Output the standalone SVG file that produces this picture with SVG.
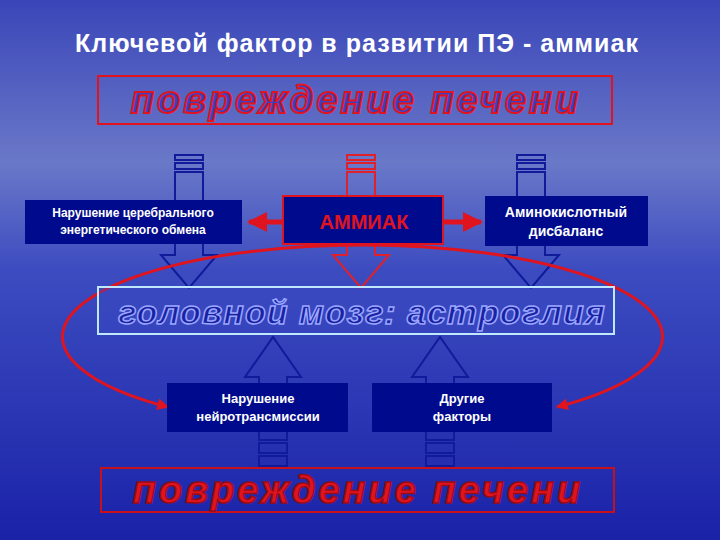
<svg xmlns="http://www.w3.org/2000/svg" width="720" height="540" viewBox="0 0 720 540">
<style>
.lbl{font-family:"Liberation Sans",Arial,sans-serif;font-weight:bold;fill:#fff;text-anchor:middle}
.big{font-family:"Liberation Sans",Arial,sans-serif;font-weight:900;font-style:italic;text-anchor:middle}
.barr{fill:none;stroke:#101a9a;stroke-width:2}
.rarr{fill:none;stroke:#e0202a;stroke-width:2}
</style>
<defs>
<linearGradient id="bg" x1="0" y1="0" x2="0" y2="1">
<stop offset="0" stop-color="#3a46b8"/><stop offset="0.3" stop-color="#6a78c8"/><stop offset="0.5" stop-color="#3c4cc0"/><stop offset="1" stop-color="#1a22a8"/>
</linearGradient>
<marker id="rh" viewBox="0 0 10 10" refX="9" refY="5" markerWidth="4" markerHeight="4" orient="auto-start-reverse"><path d="M0,0 L10,5 L0,10 z" fill="#e0141e"/></marker>
<g id="downArrow">
<rect x="-14" y="0" width="28" height="5"/><rect x="-14" y="8" width="28" height="6"/>
<path d="M-14,17 H14 V100 H28 L0,133 L-28,100 H-14 Z"/>
</g>
<g id="upArrow">
<path d="M-14,103 H14 V40 H28 L0,0 L-28,40 H-14 Z"/>
<rect x="-14" y="106" width="28" height="10"/><rect x="-14" y="119" width="28" height="10"/>
</g>
</defs>
<rect width="720" height="540" fill="url(#bg)"/>
<text x="357" y="52" class="lbl" font-size="25" letter-spacing="1">Ключевой фактор в развитии ПЭ - аммиак</text>

<g id="arrows">
<use href="#downArrow" x="189" y="155" class="barr"/>
<use href="#downArrow" x="361" y="155" class="rarr"/>
<use href="#downArrow" x="531" y="155" class="barr"/>
<use href="#upArrow" x="273" y="337" class="barr"/>
<use href="#upArrow" x="440" y="337" class="barr"/>
</g>

<g id="top-liver">
<rect x="98" y="76" width="514" height="48" fill="none" stroke="#e0141e" stroke-width="2"/>
<text x="356" y="113" class="big" font-size="38" letter-spacing="3" fill="#3a40c0" stroke="#e0141e" stroke-width="2">повреждение печени</text>
</g>

<g id="connectors">
<path d="M168,407 A300,92 0 1 1 557,407" fill="none" stroke="#e0141e" stroke-width="3" marker-start="url(#rh)" marker-end="url(#rh)"/>
<path d="M283,222 H249" stroke="#e0141e" stroke-width="5" marker-end="url(#rh)"/>
<path d="M443,222 H481" stroke="#e0141e" stroke-width="5" marker-end="url(#rh)"/>
</g>

<g id="n-energy">
<rect x="25" y="200" width="217" height="44" fill="#000a8c"/>
<text x="133" y="217" class="lbl" font-size="12">Нарушение церебрального</text>
<text x="133" y="234" class="lbl" font-size="12">энергетического обмена</text>
</g>
<g id="n-ammonia">
<rect x="283" y="196" width="160" height="48" fill="#000a8c" stroke="#e0141e" stroke-width="2"/>
<text x="364" y="229" class="lbl" font-size="20" style="fill:#e0141e">АММИАК</text>
</g>
<g id="n-amino">
<rect x="485" y="196" width="163" height="50" fill="#000a8c"/>
<text x="566" y="217" class="lbl" font-size="14">Аминокислотный</text>
<text x="566" y="236" class="lbl" font-size="14">дисбаланс</text>
</g>

<g id="brain">
<rect x="98" y="287" width="516" height="47" fill="#3a48c0" fill-opacity="0.4" stroke="#bfe8ff" stroke-width="2"/>
<text x="362" y="324" class="big" font-size="34" letter-spacing="1" fill="#1a22a0" stroke="#9aa6ff" stroke-width="1.5">головной мозг: астроглия</text>
</g>

<g id="n-neuro">
<rect x="167" y="383" width="181" height="49" fill="#000a8c"/>
<text x="258" y="403" class="lbl" font-size="13">Нарушение</text>
<text x="258" y="421" class="lbl" font-size="13">нейротрансмиссии</text>
</g>
<g id="n-other">
<rect x="372" y="383" width="180" height="49" fill="#000a8c"/>
<text x="462" y="403" class="lbl" font-size="13">Другие</text>
<text x="462" y="421" class="lbl" font-size="13">факторы</text>
</g>

<g id="bottom-liver">
<rect x="101" y="468" width="513" height="44" fill="none" stroke="#c8101a" stroke-width="2"/>
<text x="358" y="503" class="big" font-size="38" letter-spacing="3" fill="#e0141e" stroke="#9a0a14" stroke-width="1.5">повреждение печени</text>
</g>
</svg>
